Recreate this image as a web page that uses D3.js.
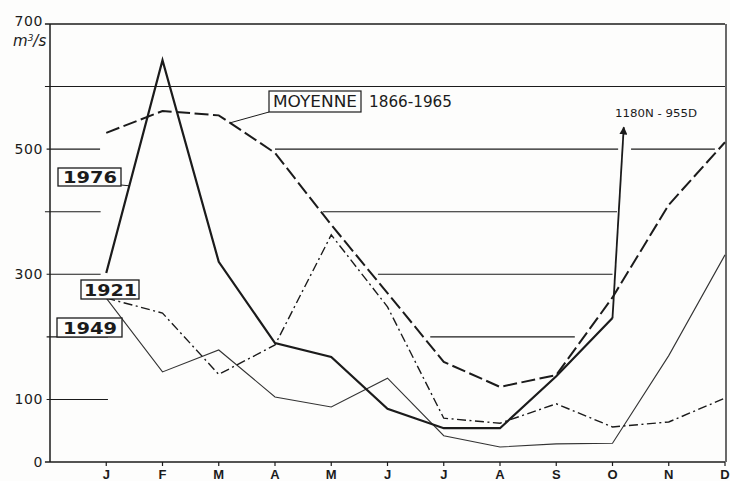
<!DOCTYPE html>
<html>
<head>
<meta charset="utf-8">
<script src="https://cdn.jsdelivr.net/npm/d3@7"></script>
<style>
  body { margin: 0; background: #fdfdfc; }
  svg { display: block; }
  text { fill: #1b1b1b; }
</style>
</head>
<body>
<svg id="chart" width="730" height="481"></svg>
<script>
// monthly discharge, m3/s
const months = ['J', 'F', 'M', 'A', 'M', 'J', 'J', 'A', 'S', 'O', 'N', 'D']
const moyenne = [526, 561, 554, 494, 379, 270, 160, 120, 139, 263, 411, 511]
const y1976 = [302, 642, 320, 190, 168, 85, 54, 54, 137, 230]
const y1921 = [262, 238, 140, 187, 363, 248, 70, 62, 93, 56, 64, 102]
const y1949 = [262, 144, 179, 104, 88, 134, 42, 24, 29, 30, 170, 331]
const yTicks = [700, 500, 300, 100, 0]
// grid pieces: value, from month index, to month index
const gridLines = [
    [700, -1.09, 11], [600, -1.09, 11],
    [500, -1.06, -0.11], [500, 3.0, 9.1], [500, 9.33, 10.82],
    [400, -1.09, -0.1], [400, 3.85, 9.08],
    [300, -1.06, -0.1], [300, 4.83, 9.0],
    [200, -1.06, 0.03], [200, 5.76, 8.33],
    [100, -1.06, 0.03], [0, -1.09, 11]
]
const arrowTip = {m: 9.2, v: 535}

let svg = d3.select('#chart')

let x = d3.scaleLinear().domain([-1, 11]).range([50, 725])
let y = d3.scaleLinear().domain([0, 700]).range([462, 24])

let ink = '#1b1b1b'

svg.append('defs').append('marker')
    .attr('id', 'head')
    .attr('viewBox', '0 0 10 10')
    .attr('refX', 9).attr('refY', 5)
    .attr('markerWidth', 4.5).attr('markerHeight', 4.5)
    .attr('orient', 'auto')
    .append('path').attr('d', 'M0,0L10,5L0,10Z').attr('fill', ink)

// frame and grid
svg.append('g').selectAll('line')
    .data(gridLines)
    .enter().append('line')
        .attr('x1', d => x(d[1])).attr('x2', d => x(d[2]))
        .attr('y1', d => y(d[0])).attr('y2', d => y(d[0]))
        .attr('stroke', ink)
        .attr('stroke-width', d => d[0] == 700 || d[0] == 0 ? 1.5 : 1.1)

svg.append('line')
    .attr('x1', x(-1)).attr('x2', x(-1)).attr('y1', y(700)).attr('y2', y(0))
    .attr('stroke', ink).attr('stroke-width', 1.5)
svg.append('line')
    .attr('x1', x(11) + 1).attr('x2', x(11) + 1).attr('y1', y(700)).attr('y2', y(0))
    .attr('stroke', ink).attr('stroke-width', 1.3)

// axes labels
svg.append('g').selectAll('text')
    .data(yTicks)
    .enter().append('text')
        .attr('x', 43)
        .attr('y', d => y(d) + (d == 700 ? -3 : 0))
        .attr('dy', '0.36em')
        .attr('text-anchor', 'end')
        .style('font', '14px "DejaVu Sans", sans-serif')
        .style('letter-spacing', '0.6px')
        .text(d => d)

let unit = svg.append('text')
    .attr('x', 13).attr('y', 46)
    .style('font', 'italic 15px "DejaVu Sans", sans-serif')
unit.append('tspan').text('m')
unit.append('tspan').attr('dy', -5).style('font-size', '9px').text('3')
unit.append('tspan').attr('dy', 5).text('/s')

svg.append('g').selectAll('line')
    .data(months)
    .enter().append('line')
        .attr('x1', (d, i) => x(i)).attr('x2', (d, i) => x(i))
        .attr('y1', y(0)).attr('y2', y(0) + 4)
        .attr('stroke', ink).attr('stroke-width', 1.2)

svg.append('g').selectAll('text')
    .data(months)
    .enter().append('text')
        .attr('x', (d, i) => x(i))
        .attr('y', 479)
        .attr('text-anchor', 'middle')
        .style('font', 'bold 13px "Liberation Sans", Arial, sans-serif')
        .text(d => d)

// series
let line = d3.line().x((d, i) => x(i)).y(d => y(d))

let series = [
    {data: y1949, w: 1.1, dash: null, color: '#333'},
    {data: y1921, w: 1.4, dash: '9,3.5,2,3.5', color: ink},
    {data: moyenne, w: 2, dash: '14,4.5', color: ink},
    {data: y1976, w: 2.2, dash: null, color: ink}
]

series.forEach(s => {
    svg.append('path')
        .datum(s.data)
        .attr('d', line)
        .attr('fill', 'none')
        .attr('stroke', s.color)
        .attr('stroke-width', s.w)
        .attr('stroke-linejoin', 'miter')
        .attr('stroke-dasharray', s.dash)
})

// arrow for the october flood
let last = y1976.length - 1
svg.append('line')
    .attr('x1', x(last)).attr('y1', y(y1976[last]))
    .attr('x2', x(arrowTip.m)).attr('y2', y(arrowTip.v))
    .attr('stroke', ink).attr('stroke-width', 1.8)
    .attr('marker-end', 'url(#head)')

svg.append('text')
    .attr('x', 615).attr('y', 117)
    .attr('textLength', 82).attr('lengthAdjust', 'spacingAndGlyphs')
    .style('font', '11px "DejaVu Sans", sans-serif')
    .text('1180N - 955D')

// point on a series at a fractional month
let at = (data, m) => {
    let i = Math.floor(m), t = m - i
    return data[i] + t * (data[i + 1] - data[i])
}

// connectors
svg.append('line')
    .attr('x1', 121).attr('y1', 185)
    .attr('x2', x(0.41)).attr('y2', y(at(y1976, 0.41)))
    .attr('stroke', ink).attr('stroke-width', 1)
svg.append('line')
    .attr('x1', 269).attr('y1', 112)
    .attr('x2', x(2.2)).attr('y2', y(at(moyenne, 2.2)))
    .attr('stroke', ink).attr('stroke-width', 1)

// boxed labels
let boxes = [
    {t: '1976', bx: 58, by: 168, bw: 63, bh: 18, tx: 63, ty: 183, tl: 54},
    {t: '1921', bx: 81, by: 280, bw: 58, bh: 19, tx: 84, ty: 296, tl: 53},
    {t: '1949', bx: 57, by: 318, bw: 65, bh: 19, tx: 63, ty: 334, tl: 54}
]

boxes.forEach(b => {
    svg.append('rect')
        .attr('x', b.bx).attr('y', b.by).attr('width', b.bw).attr('height', b.bh)
        .attr('fill', '#fdfdfc').attr('stroke', ink).attr('stroke-width', 1.3)
    svg.append('text')
        .attr('x', b.tx).attr('y', b.ty)
        .attr('textLength', b.tl).attr('lengthAdjust', 'spacingAndGlyphs')
        .style('font', 'bold 16px "DejaVu Sans", sans-serif')
        .text(b.t)
})

svg.append('rect')
    .attr('x', 269).attr('y', 91).attr('width', 92).attr('height', 21)
    .attr('fill', '#fdfdfc').attr('stroke', ink).attr('stroke-width', 1.2)
svg.append('text')
    .attr('x', 273).attr('y', 107)
    .attr('textLength', 84).attr('lengthAdjust', 'spacingAndGlyphs')
    .style('font', '15px "DejaVu Sans", sans-serif')
    .text('MOYENNE')
svg.append('text')
    .attr('x', 369).attr('y', 107)
    .attr('textLength', 83).attr('lengthAdjust', 'spacingAndGlyphs')
    .style('font', '15px "DejaVu Sans", sans-serif')
    .text('1866-1965')
</script>
</body>
</html>
